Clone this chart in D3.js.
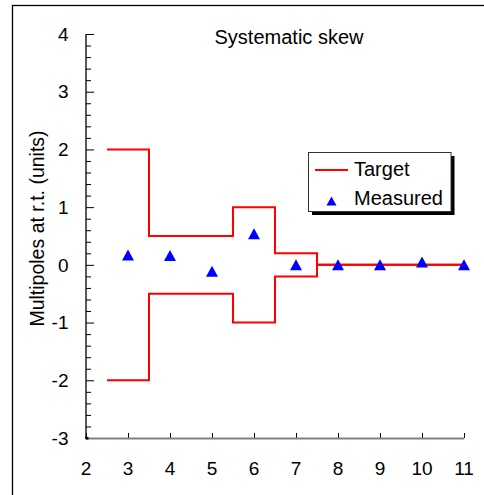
<!DOCTYPE html>
<html>
<head>
<meta charset="utf-8">
<script src="https://cdn.jsdelivr.net/npm/d3@7/dist/d3.min.js"></script>
<style>
  html, body { margin: 0; padding: 0; background: #fff; }
  svg { display: block; font-family: "Liberation Sans", Arial, sans-serif; }
</style>
</head>
<body>
<svg id="chart" width="484" height="495"></svg>
<script>
// Multipole order on the x axis
const orders = [3, 4, 5, 6, 7, 8, 9, 10, 11];
// Measured systematic skew (units)
const measured = [0.17, 0.16, -0.11, 0.54, 0.0, 0.0, 0.0, 0.05, 0.0];
// Target tolerance band: step edges and upper/lower limits
const targetEdges = [2.5, 3.5, 5.5, 6.5, 7.5, 11];
const targetUpper = [2, 0.5, 1, 0.2, 0, 0];
const targetLower = [-2, -0.5, -1, -0.2, 0, 0];
// Axis ticks
const xTicks = [2, 3, 4, 5, 6, 7, 8, 9, 10, 11];
const yTicks = [-3, -2, -1, 0, 1, 2, 3, 4];

const svg = d3.select("#chart");
const plotLeft = 86, plotRight = 464, plotTop = 34, plotBottom = 438;

const x = d3.scaleLinear().domain([2, 11]).range([plotLeft, plotRight]);
const y = d3.scaleLinear().domain([-3, 4]).range([plotBottom, plotTop]);

// Outer frame
svg.append("rect")
  .attr("x", 12.5).attr("y", 5.5)
  .attr("width", 500).attr("height", 520)
  .attr("fill", "none").attr("stroke", "#000").attr("stroke-width", 1.3);

// Title
svg.append("text")
  .attr("x", 289).attr("y", 44)
  .attr("text-anchor", "middle")
  .attr("font-size", 20)
  .attr("fill", "#000")
  .text("Systematic skew");

// Y axis label
svg.append("text")
  .attr("transform", "translate(44,228.5) rotate(-90)")
  .attr("text-anchor", "middle")
  .attr("font-size", 19.5)
  .attr("fill", "#000")
  .text("Multipoles at r.t. (units)");

// Y axis: minor ticks every 0.2, major at integers, ticks pointing inward
const yMinor = d3.range(-3, 4.0001, 0.2).map(v => Math.round(v * 10) / 10)
  .filter(v => !yTicks.includes(v));
const yAxisMinor = d3.axisRight(y).tickValues(yMinor).tickSize(5).tickFormat("");
const yAxisMajor = d3.axisRight(y).tickValues(yTicks).tickSize(8).tickFormat("");

const gyMinor = svg.append("g").attr("transform", `translate(${plotLeft},0)`).call(yAxisMinor);
const gyMajor = svg.append("g").attr("transform", `translate(${plotLeft},0)`).call(yAxisMajor);
[gyMinor, gyMajor].forEach(g => {
  g.select(".domain").remove();
  g.selectAll(".tick line").attr("stroke", "#000").attr("stroke-width", 1);
});
svg.append("line")
  .attr("x1", plotLeft).attr("x2", plotLeft)
  .attr("y1", plotTop).attr("y2", plotBottom + 1)
  .attr("stroke", "#000").attr("stroke-width", 1.3);

// Y tick labels
svg.append("g").selectAll("text").data(yTicks).join("text")
  .attr("x", 68.5).attr("y", d => y(d))
  .attr("dy", "0.35em")
  .attr("text-anchor", "end")
  .attr("font-size", 19)
  .attr("fill", "#000")
  .text(d => d);

// X axis: gray baseline with inward ticks
const xAxis = d3.axisTop(x).tickValues(xTicks).tickSize(5).tickFormat("");
const gx = svg.append("g").attr("transform", `translate(0,${plotBottom})`).call(xAxis);
gx.select(".domain").remove();
gx.selectAll(".tick line").attr("stroke", "#000").attr("stroke-width", 1);
svg.append("line")
  .attr("x1", plotLeft).attr("x2", plotRight)
  .attr("y1", plotBottom + 0.5).attr("y2", plotBottom + 0.5)
  .attr("stroke", "#808080").attr("stroke-width", 2);
svg.append("rect")
  .attr("x", plotLeft - 0.5).attr("y", plotBottom - 1)
  .attr("width", 3).attr("height", 2.5)
  .attr("fill", "#000");

// X tick labels
svg.append("g").selectAll("text").data(xTicks).join("text")
  .attr("x", d => x(d)).attr("y", 475)
  .attr("text-anchor", "middle")
  .attr("font-size", 19)
  .attr("fill", "#000")
  .text(d => d);

// Target band
const stepLine = d3.line()
  .x(d => x(d[0]))
  .y(d => y(d[1]))
  .curve(d3.curveStepAfter);
[targetUpper, targetLower].forEach(limits => {
  svg.append("path")
    .datum(targetEdges.map((e, i) => [e, limits[i]]))
    .attr("d", stepLine)
    .attr("fill", "none")
    .attr("stroke", "#ff0000")
    .attr("stroke-width", 2);
});

// Measured points as triangles centred on their bounding box
const triW = 12, triH = 11;
const triPath = (cx, cy, w, h) =>
  `M${cx},${cy - h / 2}L${cx + w / 2},${cy + h / 2}L${cx - w / 2},${cy + h / 2}Z`;
svg.append("g").selectAll("path").data(orders.map((o, i) => [o, measured[i]])).join("path")
  .attr("d", d => triPath(x(d[0]), y(d[1]), triW, triH))
  .attr("fill", "#0000ff");

// Legend with drop shadow
const lg = svg.append("g");
lg.append("rect")
  .attr("x", 312).attr("y", 156)
  .attr("width", 142.5).attr("height", 59)
  .attr("fill", "#000");
lg.append("rect")
  .attr("x", 308.5).attr("y", 152.5)
  .attr("width", 142.5).attr("height", 59)
  .attr("fill", "#fff").attr("stroke", "#333").attr("stroke-width", 1);
lg.append("line")
  .attr("x1", 315).attr("x2", 348)
  .attr("y1", 170).attr("y2", 170)
  .attr("stroke", "#ff0000").attr("stroke-width", 2);
lg.append("text")
  .attr("x", 354).attr("y", 176)
  .attr("font-size", 20).attr("fill", "#000")
  .text("Target");
lg.append("path")
  .attr("d", triPath(331.5, 201, 10, 9))
  .attr("fill", "#0000ff");
lg.append("text")
  .attr("x", 354).attr("y", 204.5)
  .attr("font-size", 20).attr("fill", "#000")
  .text("Measured");
</script>
</body>
</html>
